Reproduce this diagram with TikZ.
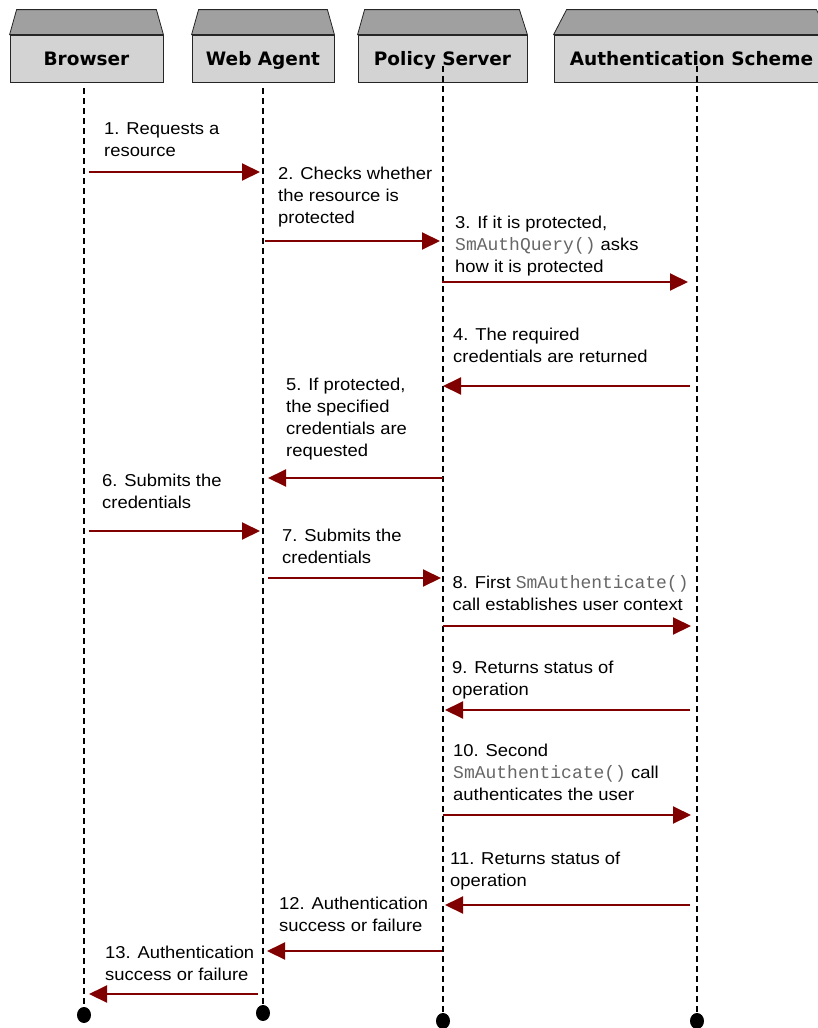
\documentclass[tikz,border=0pt]{standalone}
\usepackage{fontspec}
\setmainfont{Liberation Sans}[FakeStretch=1.07]
\setmonofont{Liberation Mono}
\newfontfamily\hdrfont{DejaVu Sans}
\usetikzlibrary{arrows.meta,shapes.geometric}
\definecolor{msgred}{HTML}{800000}
\definecolor{roofgray}{HTML}{A0A0A0}
\definecolor{frontgray}{HTML}{D3D3D3}
\definecolor{codegray}{HTML}{666666}
\newcommand{\smcode}[1]{{\fontsize{18}{21.8}\selectfont\ttfamily\color{codegray}#1}}
\begin{document}
\begin{tikzpicture}[x=1pt,y=-1pt,
  front/.style={draw=black!85, line width=0.8pt, fill=frontgray, inner sep=0pt,
    text height=13.5pt, text depth=0pt, minimum height=47pt,
    font=\hdrfont\bfseries\fontsize{18.5}{22}\selectfont},
  roof/.style={draw=black!85, line width=0.8pt, fill=roofgray},
  life/.style={line width=1.2pt, dash pattern=on 6pt off 4pt},
  msg/.style={draw=msgred, line width=2pt, -{Triangle[length=18pt,width=17pt]}},
  lbl/.style={font=\fontsize{17.2}{21.8}\selectfont, anchor=base west, align=left, inner sep=0pt},
  enddot/.style={ellipse, fill=black, minimum width=14pt, minimum height=16pt, inner sep=0pt}
]
\clip (0,0) rectangle (818,1028);
\useasboundingbox (0,0) rectangle (818,1028);

% headers
\node[front, minimum width=153pt] (hb) at (86.5,58.5) {Browser};
\node[front, minimum width=142pt] (hw) at (263,58.5) {Web Agent};
\node[front, minimum width=169pt] (hp) at (442.5,58.5) {Policy Server};
\node[front, minimum width=275pt] (ha) at (691.5,58.5) {Authentication Scheme};
\draw[roof] (hb.north west) -- ([xshift=7pt,yshift=25pt]hb.north west) -- ([xshift=-7pt,yshift=25pt]hb.north east) -- (hb.north east) -- cycle;
\draw[roof] (hw.north west) -- ([xshift=7pt,yshift=25pt]hw.north west) -- ([xshift=-7pt,yshift=25pt]hw.north east) -- (hw.north east) -- cycle;
\draw[roof] (hp.north west) -- ([xshift=7pt,yshift=25pt]hp.north west) -- ([xshift=-8pt,yshift=25pt]hp.north east) -- (hp.north east) -- cycle;
\draw[roof] (ha.north west) -- ([xshift=13pt,yshift=25pt]ha.north west) -- ([xshift=-13pt,yshift=25pt]ha.north east) -- (ha.north east) -- cycle;

% end dots and lifelines
\node[enddot] (db) at (84,1015) {};
\node[enddot] (dw) at (263,1013) {};
\node[enddot] (dp) at (443,1021) {};
\node[enddot] (da) at (697,1021) {};
\coordinate (lb) at (84,88);
\coordinate (lw) at (263,88);
\coordinate (lp) at (443,66);
\coordinate (la) at (697,66);
\draw[life] (lb) -- (db.center);
\draw[life] (lw) -- (dw.center);
\draw[life] (lp) -- (dp.center);
\draw[life] (la) -- (da.center);

% messages
\coordinate (m1a) at (89,172);   \coordinate (m1b) at (260,172);
\coordinate (m2a) at (265,241);  \coordinate (m2b) at (440,241);
\coordinate (m3a) at (442,282);  \coordinate (m3b) at (688,282);
\coordinate (m4a) at (690,386);  \coordinate (m4b) at (443,386);
\coordinate (m5a) at (443,478);  \coordinate (m5b) at (268,478);
\coordinate (m6a) at (89,531);   \coordinate (m6b) at (260,531);
\coordinate (m7a) at (268,578);  \coordinate (m7b) at (441,578);
\coordinate (m8a) at (443,626);  \coordinate (m8b) at (691,626);
\coordinate (m9a) at (690,710);  \coordinate (m9b) at (445,710);
\coordinate (m10a) at (443,815); \coordinate (m10b) at (691,815);
\coordinate (m11a) at (690,905); \coordinate (m11b) at (445,905);
\coordinate (m12a) at (442,951); \coordinate (m12b) at (267,951);
\coordinate (m13a) at (258,994); \coordinate (m13b) at (89,994);
\foreach \i in {1,...,13} {\draw[msg] (m\i a) -- (m\i b);}

% labels (anchor = baseline of the last line)
\node[lbl] (t1) at (104,156) {1. Requests a\\resource};
\node[lbl] (t2) at (278,223) {2. Checks whether\\the resource is\\protected};
\node[lbl] (t3) at (455,272) {3. If it is protected,\\\smcode{SmAuthQuery()} asks\\how it is protected};
\node[lbl] (t4) at (453,362.5) {4. The required\\credentials are returned};
\node[lbl] (t5) at (286,456) {5. If protected,\\the specified\\credentials are\\requested};
\node[lbl] (t6) at (102,508) {6. Submits the\\credentials};
\node[lbl] (t7) at (282,563) {7. Submits the\\credentials};
\node[lbl] (t8) at (452.5,610) {8. First \smcode{SmAuthenticate()}\\call establishes user context};
\node[lbl] (t9) at (452,695) {9. Returns status of\\operation};
\node[lbl] (t10) at (453,800) {10. Second\\\smcode{SmAuthenticate()} call\\authenticates the user};
\node[lbl] (t11) at (450,886) {11. Returns status of\\operation};
\node[lbl] (t12) at (279,931.5) {12. Authentication\\success or failure};
\node[lbl] (t13) at (105,980) {13. Authentication\\success or failure};
\end{tikzpicture}
\end{document}
